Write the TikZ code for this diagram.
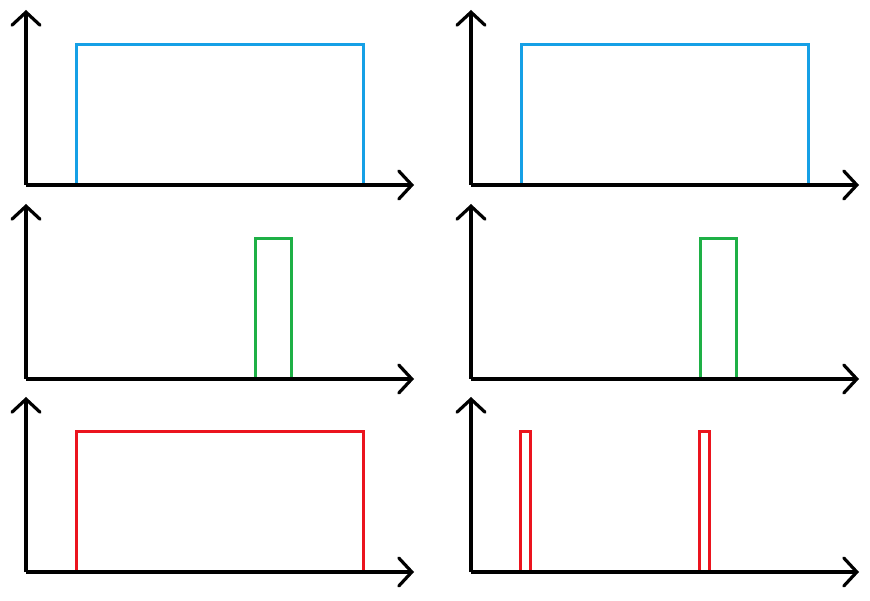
\documentclass[tikz,border=0pt]{standalone}
\usetikzlibrary{arrows.meta}
\definecolor{sigblue}{RGB}{22,160,230}
\definecolor{siggreen}{RGB}{30,176,70}
\definecolor{sigred}{RGB}{235,20,30}
\tikzset{
  axis/.style={black, line width=3.2pt, -{Straight Barb[length=13pt,width=28pt,line cap=round]}},
  pulse/.style={line width=3pt}
}
\begin{document}
\begin{tikzpicture}[x=1pt,y=1pt]
        \useasboundingbox (0,0) rectangle (870,600);

        % top row
        \draw[pulse, sigblue] (76,415) rectangle (363,555);
        \draw[pulse, sigblue] (521,415) rectangle (808,555);

        % middle row
        \draw[pulse, siggreen] (255,221) rectangle (291,361);
        \draw[pulse, siggreen] (700,221) rectangle (736,361);

        % bottom row
        \draw[pulse, sigred] (76,28) rectangle (363,168);
        \draw[pulse, sigred] (520,28) rectangle (530,168);
        \draw[pulse, sigred] (699,28) rectangle (709,168);

        % axes
        \draw[axis] (26,415) -- (26,590);
        \draw[axis] (26,415) -- (414,415);
        \draw[axis] (471,415) -- (471,590);
        \draw[axis] (471,415) -- (859,415);
        \draw[axis] (26,221) -- (26,396);
        \draw[axis] (26,221) -- (414,221);
        \draw[axis] (471,221) -- (471,396);
        \draw[axis] (471,221) -- (859,221);
        \draw[axis] (26,28) -- (26,203);
        \draw[axis] (26,28) -- (414,28);
        \draw[axis] (471,28) -- (471,203);
        \draw[axis] (471,28) -- (859,28);
    \end{tikzpicture}
\end{document}
